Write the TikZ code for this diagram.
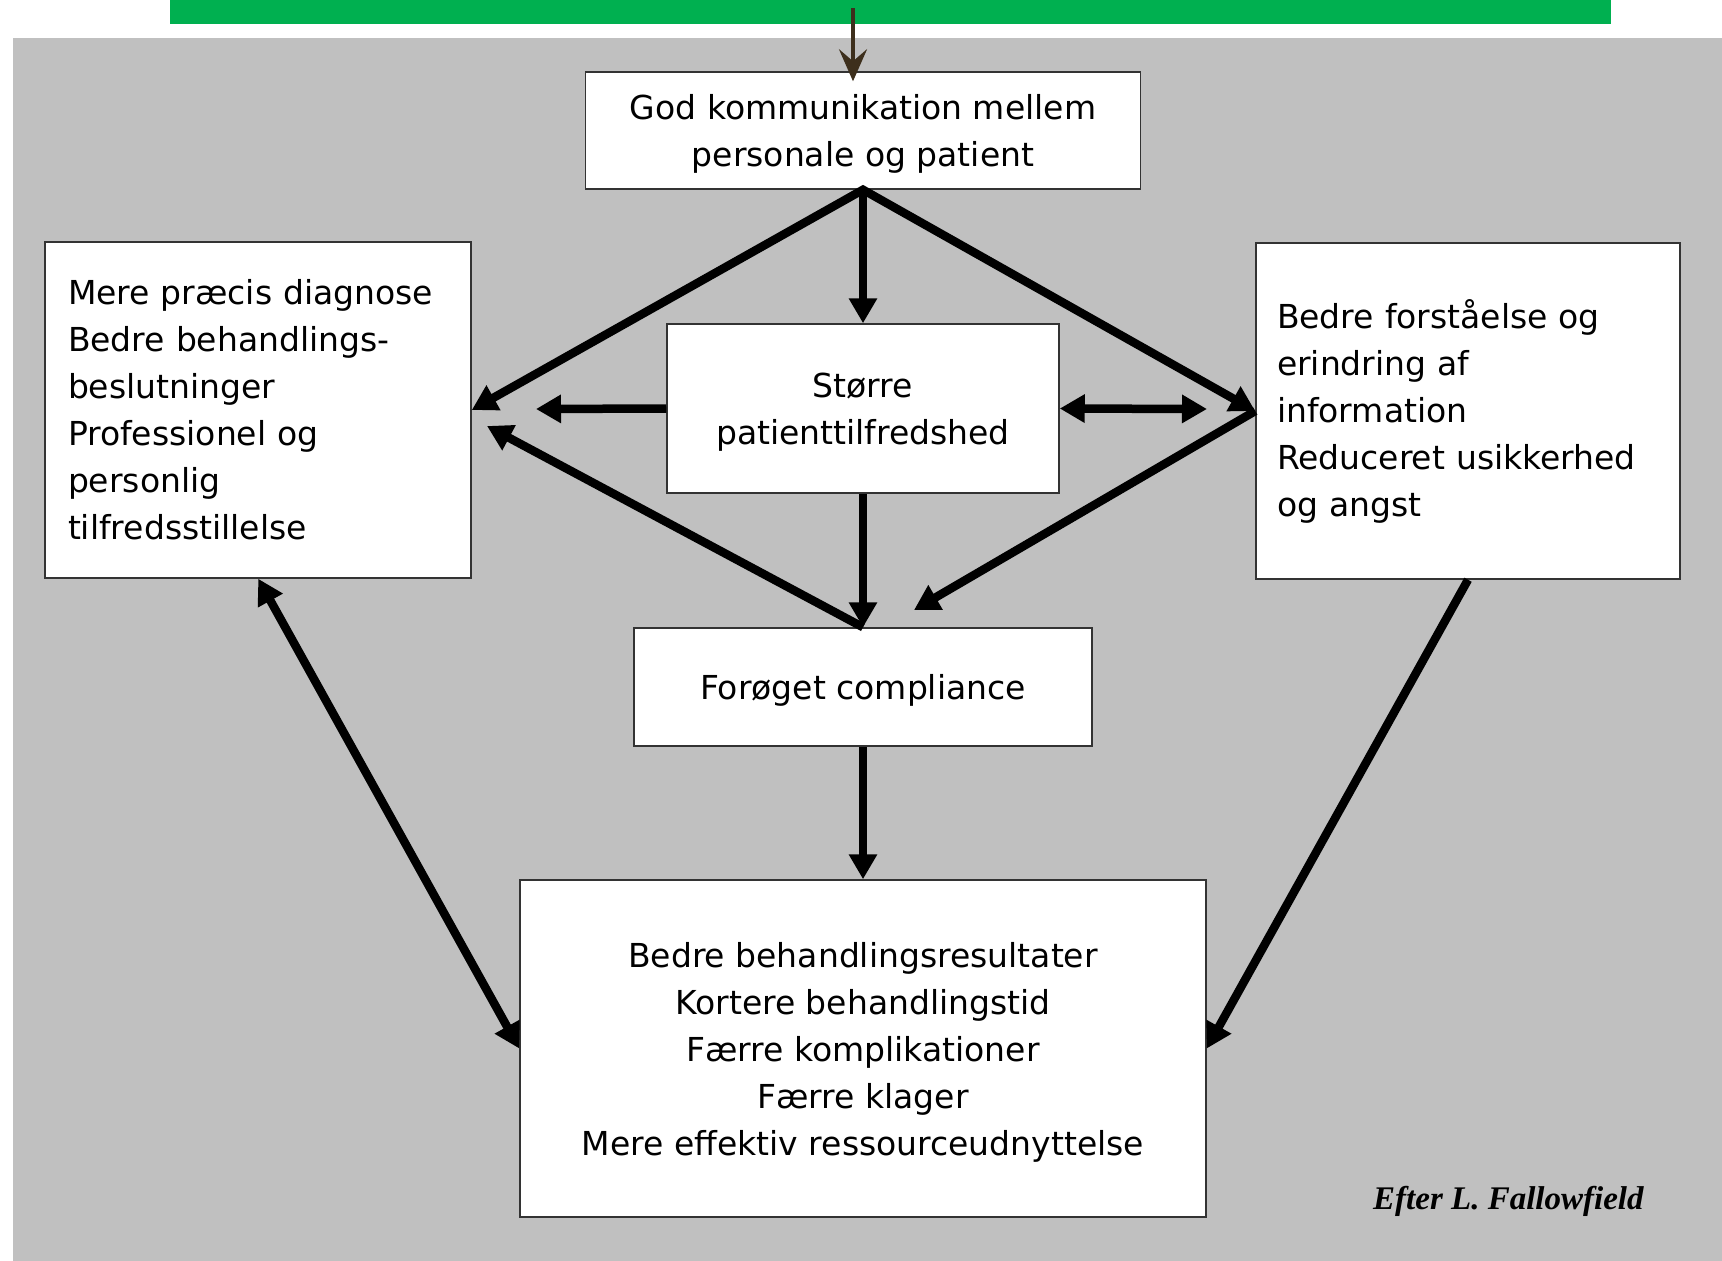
\documentclass[tikz,border=0pt]{standalone}
\usepackage{fontspec}
\setmainfont{DejaVu Sans}
\newfontfamily\credfont{Liberation Serif}
\usetikzlibrary{arrows.meta,calc}
\definecolor{bggray}{HTML}{C0C0C0}
\definecolor{topgreen}{HTML}{00B050}
\definecolor{brownarrow}{HTML}{3D2F1C}
\begin{document}
\begin{tikzpicture}[x=1pt,y=-1pt,
  >={Triangle[length=25pt,width=27pt]},
  box/.style={draw=black!80, line width=1.5pt, fill=white, inner sep=0pt,
    font=\fontsize{33}{47}\selectfont},
  cbox/.style={box, align=center, text depth=-4pt},
  conn/.style={line width=8.5pt, ->},
  ]
\useasboundingbox (0,0) rectangle (1722,1261);
\fill[white] (0,0) rectangle (1722,1261);
\fill[bggray] (13,38) rectangle (1722,1261);
\fill[topgreen] (170,0) rectangle (1611,24);

\node[cbox, text depth=-8pt, minimum width=555pt, minimum height=117pt] (top) at (863,130.5)
  {God kommunikation mellem\\personale og patient};
\node[box, minimum width=426pt, minimum height=336pt, text width=380pt, inner xsep=23pt, align=left] (lbox) at (258,410)
  {Mere præcis diagnose\\Bedre behandlings-\\beslutninger\\Professionel og\\personlig\\tilfredsstillelse};
\node[box, minimum width=424pt, minimum height=336pt, text width=382pt, inner xsep=21pt, align=left] (rbox) at (1468,411)
  {Bedre forståelse og\\erindring af\\information\\Reduceret usikkerhed\\og angst};
\node[cbox, text depth=-7pt, minimum width=392pt, minimum height=169pt] (mid) at (863,408.5)
  {Større\\patienttilfredshed};
\node[cbox, minimum width=458pt, minimum height=118pt] (comp) at (863,687)
  {Forøget compliance};
\node[cbox, minimum width=686pt, minimum height=337pt] (bot) at (863,1048.5)
  {Bedre behandlingsresultater\\Kortere behandlingstid\\Færre komplikationer\\Færre klager\\Mere effektiv ressourceudnyttelse};
\node[font=\credfont\fontsize{33}{38}\selectfont\bfseries\itshape, anchor=base west, inner sep=0pt] (cred) at (1373,1209)
  {Efter L. Fallowfield};

\coordinate (src) at (853,8);
\coordinate (tipA) at (536,409);
\coordinate (tipB) at (1207,409);
\coordinate (tipC) at (487,426);
\coordinate (tipD) at (914,610);
\coordinate (lbot) at ([xshift=214pt]lbox.south west);

\draw[brownarrow, line width=4pt, -{Stealth[length=32pt,width=28pt,inset=12pt]}]
  (src) -- ([xshift=-10pt,yshift=-10pt]top.north);

\draw[conn, <->, line join=miter] (lbox.east) -- (top.south) -- (rbox.west);
\draw[conn] (top.south) -- (mid.north);
\draw[conn] (mid.west) -- (tipA);
\draw[conn, <->] (mid.east) -- (tipB);
\draw[conn] (comp.north) -- (tipC);
\draw[conn] (mid.south) -- (comp.north);
\draw[conn] (rbox.west) -- (tipD);
\draw[conn] (comp.south) -- (bot.north);
\draw[conn, <->] (lbot) -- (bot.west);
\draw[conn] (rbox.south) -- (bot.east);
\end{tikzpicture}
\end{document}
